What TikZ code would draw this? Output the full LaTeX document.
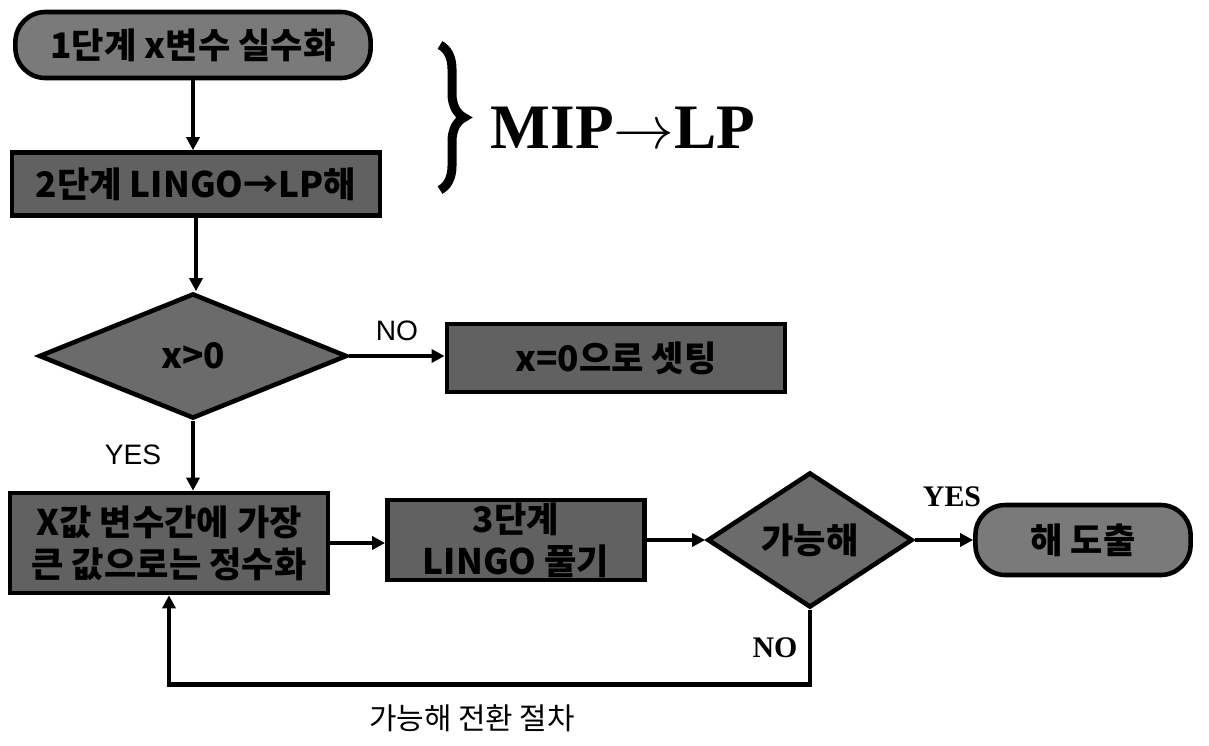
\documentclass[tikz,border=0pt]{standalone}
\usepackage{fontspec}
\setmainfont{Liberation Serif}
\newfontfamily\kr{Noto Sans CJK KR}
\newfontfamily\lsans{Liberation Sans}
\usetikzlibrary{shapes.geometric,arrows.meta,decorations.pathreplacing}
\begin{document}
\begin{tikzpicture}[x=0.01cm,y=-0.01cm,
  box/.style={draw=black, line width=1.3pt, fill=black!62, inner sep=0pt, text=black,
    font=\kr\bfseries\fontsize{10}{12}\selectfont},
  pill/.style={box, fill=black!52, rounded corners=0.3cm},
  dia/.style={box, fill=black!58, diamond},
  arr/.style={line width=1.4pt, -{Triangle[length=0.13cm,width=0.13cm]}},
  sanslab/.style={font=\lsans\fontsize{8}{9}\selectfont, inner sep=0pt},
  seriflab/.style={font=\bfseries\fontsize{8.5}{10}\selectfont, inner sep=0pt}]
\useasboundingbox (0,0) rectangle (1209,745);
\node[pill, minimum width=3.55cm, minimum height=0.66cm] (s1) at (193,45) {1단계 x변수 실수화};
\node[box, minimum width=3.68cm, minimum height=0.63cm] (s2) at (196,184) {2단계 LINGO→LP해};
\node[dia, minimum width=3.08cm, minimum height=1.25cm] (d1) at (193,356) {x>0};
\node[box, minimum width=3.38cm, minimum height=0.68cm] (z) at (616,358) {x=0으로 셋팅};
\node[box, minimum width=3.18cm, minimum height=1.0cm, align=center] (s3) at (169,543) {X값 변수간에 가장\\큰 값으로는 정수화};
\node[box, minimum width=2.57cm, minimum height=0.8cm, align=center] (s4) at (516,540) {3단계\\LINGO 풀기};
\node[dia, minimum width=2.05cm, minimum height=1.35cm] (d2) at (810,540) {가능해};
\node[pill, minimum width=2.15cm, minimum height=0.7cm] (t) at (1083,540) {해 도출};
% labels
\node[sanslab] (no1) at (397,331) {NO};
\node[sanslab] (yes1) at (133,455) {YES};
\node[seriflab] (yes2) at (952,497) {YES};
\node[seriflab] (no2) at (775,648) {NO};
\node[font=\kr\fontsize{8.5}{10}\selectfont, inner sep=0pt] (cap) at (472,718) {가능해 전환 절차};
\node[font=\bfseries\fontsize{18}{20}\selectfont, inner sep=0pt, anchor=west] (mip) at (490,128) {MIP$\rightarrow$LP};
% brace
\coordinate (bt) at (440,45);
\coordinate (bb) at (440,190);
\draw[decorate, decoration={brace, amplitude=0.24cm}, line width=0.09cm] (bt) -- (bb);
% connectors
\draw[arr] (s1.south) -- (s1.south |- s2.north);
\draw[arr] (s2.south) -- (s2.south |- d1.north);
\draw[arr] (d1.east) -- (d1.east -| z.west);
\draw[arr] (d1.south) -- (d1.south |- s3.north);
\draw[arr] (s3.east) -- (s3.east -| s4.west);
\draw[arr] (s4.east) -- (d2.west);
\draw[arr] (d2.east) -- (t.west);
\draw[arr] (d2.south) -- ++(0,75) -| (s3.south);
\end{tikzpicture}
\end{document}
